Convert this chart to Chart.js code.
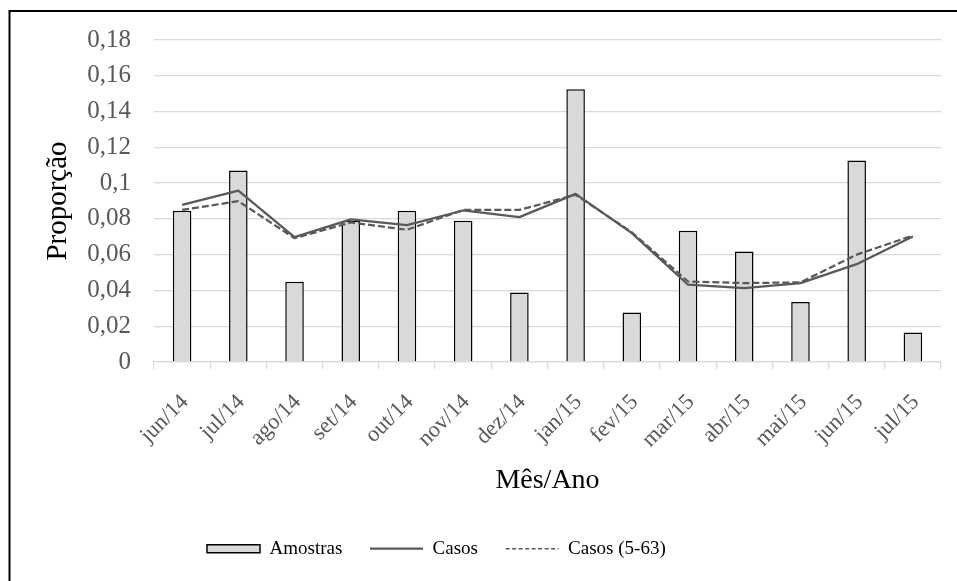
<!DOCTYPE html>
<html><head><meta charset="utf-8">
<script src="https://cdn.jsdelivr.net/npm/chart.js@4.4.0/dist/chart.umd.min.js"></script>
<style>html,body{margin:0;padding:0;background:#fff;} canvas{display:block;}</style>
</head><body>
<canvas id="c" width="957" height="581"></canvas>
<script>
const months = ['jun/14','jul/14','ago/14','set/14','out/14','nov/14','dez/14','jan/15','fev/15','mar/15','abr/15','mai/15','jun/15','jul/15'];
const amostras = [0.0845,0.107,0.0448,0.0789,0.0845,0.0789,0.0389,0.1525,0.0277,0.0733,0.0618,0.0335,0.1126,0.0165];
const casos = [0.0878,0.0958,0.0698,0.0797,0.0765,0.0847,0.081,0.094,0.072,0.0432,0.0413,0.0441,0.0547,0.0701];
const casos563 = [0.085,0.0899,0.0692,0.078,0.0739,0.085,0.085,0.0935,0.0725,0.045,0.0441,0.0445,0.06,0.0707];
const yTickLabels = ['0','0,02','0,04','0,06','0,08','0,1','0,12','0,14','0,16','0,18'];
const seriesNames = ['Amostras','Casos','Casos (5-63)'];
const xTitle = 'Mês/Ano';
const yTitle = 'Proporção';

const FONT = 'Liberation Serif';

const framePlugin = {
  id: 'frame',
  beforeDraw(chart) {
    const ctx = chart.ctx;
    ctx.save();
    ctx.fillStyle = '#fff';
    ctx.fillRect(0, 0, chart.width, chart.height);
    ctx.strokeStyle = '#000';
    ctx.lineWidth = 2;
    ctx.strokeRect(9.5, 11, 2000, 2000);
    ctx.restore();
  }
};
const legendPos = {
  id: 'legendPos',
  afterLayout(chart) {
    const lg = chart.legend;
    lg.left = 179.3; lg.right = 957; lg.top = 511.5; lg.bottom = 581;
  }
};

new Chart(document.getElementById('c'), {
  data: {
    labels: months,
    datasets: [
      { type: 'bar', label: seriesNames[0], data: amostras, backgroundColor: '#d9d9d9', borderColor: '#000', borderWidth: 1.5, barPercentage: 0.33, categoryPercentage: 1, order: 2 },
      { type: 'line', label: seriesNames[1], data: casos, borderColor: '#595959', backgroundColor: '#595959', borderWidth: 2.25, pointRadius: 0, tension: 0, fill: false, borderJoinStyle: 'round', order: 0 },
      { type: 'line', label: seriesNames[2], data: casos563, borderColor: '#595959', backgroundColor: '#595959', borderWidth: 2.25, borderDash: [7, 3], pointRadius: 0, tension: 0, fill: false, borderJoinStyle: 'round', order: 1 }
    ]
  },
  options: {
    responsive: false,
    animation: false,
    layout: { padding: { top: 40, right: 16, bottom: 0, left: 0 } },
    plugins: {
      tooltip: { enabled: false },
      legend: {
        position: 'bottom',
        align: 'start',
        maxHeight: 0.01,
        labels: {
          usePointStyle: true,
          pointStyleWidth: 53,
          boxHeight: 8,
          padding: 27.7,
          color: '#000',
          font: { family: FONT, size: 19 },
          sort: (a, b) => a.datasetIndex - b.datasetIndex,
          generateLabels(chart) {
            const items = Chart.defaults.plugins.legend.labels.generateLabels(chart);
            items.forEach(it => {
              it.pointStyle = it.datasetIndex === 0 ? 'rect' : 'line';
              if (it.datasetIndex === 0) { it.strokeStyle = '#000'; it.lineWidth = 1.5; }
              if (it.datasetIndex === 2) { it.lineWidth = 1.5; it.lineDash = [4, 2.5]; }
            });
            return items;
          }
        }
      }
    },
    scales: {
      x: {
        offset: true,
        grid: { offset: true, drawOnChartArea: false, drawTicks: true, tickLength: 7, color: '#d9d9d9', lineWidth: 1.25 },
        border: { display: true, color: '#d9d9d9', width: 1.25 },
        ticks: { autoSkip: false, maxRotation: 45, minRotation: 45, padding: 20, labelOffset: 3, color: '#595959', font: { family: FONT, size: 22.5 } },
        title: { display: true, text: xTitle, color: '#000', font: { family: FONT, size: 28 }, padding: { top: 0, bottom: 84 } },
        afterFit(s) { s.height = 219; s.paddingLeft = 0; s.paddingRight = 0; }
      },
      y: {
        min: 0, max: 0.18,
        ticks: { stepSize: 0.02, callback: (v, i) => yTickLabels[i], color: '#595959', font: { family: FONT, size: 25 }, padding: 23 },
        grid: { color: '#d9d9d9', lineWidth: 1.25, drawTicks: false },
        border: { display: false },
        title: { display: true, text: yTitle, color: '#000', font: { family: FONT, size: 29 }, padding: { top: 41, bottom: 0 } },
        afterFit(s) { s.width = 154; }
      }
    }
  },
  plugins: [framePlugin, legendPos]
});
</script>
</body></html>
